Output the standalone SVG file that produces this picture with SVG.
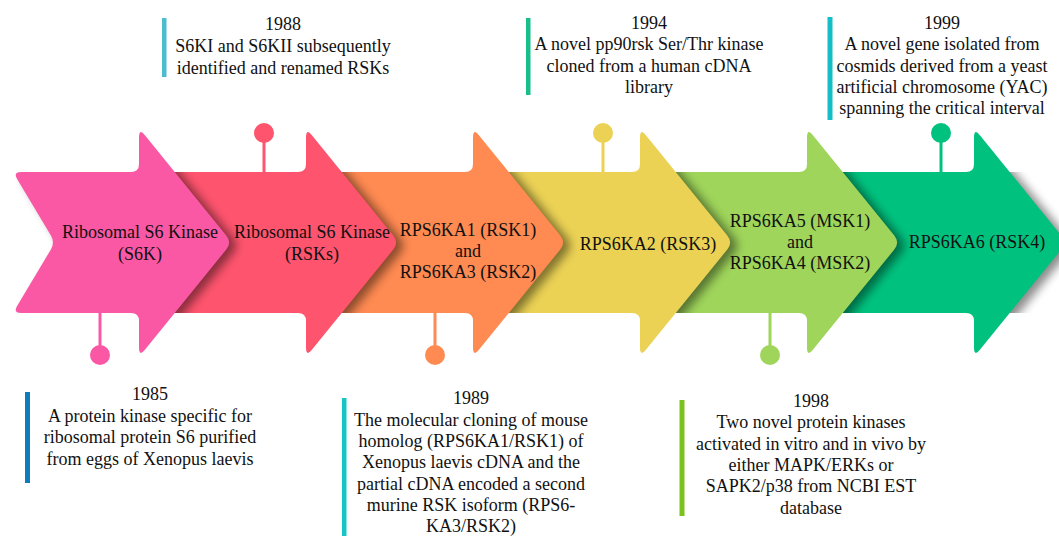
<svg xmlns="http://www.w3.org/2000/svg" xmlns:xlink="http://www.w3.org/1999/xlink" width="1059" height="536" viewBox="0 0 1059 536">
<style>
text{font-family:'Liberation Serif','Times New Roman',Tinos,'DejaVu Serif',serif;font-size:18px;fill:#111;text-anchor:middle}
.stem{stroke-width:3}
.shadow{fill:#000;opacity:0.45}
</style>
<defs>
<path id="arrowA" d="M -159,172 L -8,172 Q 0,172 0,164 L 0,138 Q 0,128 5.7,135 L 87.3,235.5 Q 93,242.5 87.3,249.5 L 5.7,350 Q 0,357 0,347 L 0,321 Q 0,313 -8,313 L -159,313 Q -167,313 -162.9,306.1 L -129.1,249.4 Q -125,242.5 -129.1,235.6 L -162.9,178.9 Q -167,172 -159,172 Z"/>
<path id="arrowP" d="M -118,172 L -8,172 Q 0,172 0,164 L 0,138 Q 0,128 5.7,135 L 87.3,235.5 Q 93,242.5 87.3,249.5 L 5.7,350 Q 0,357 0,347 L 0,321 Q 0,313 -8,313 L -118,313 Q -126,313 -121.9,306.1 L -88.1,249.4 Q -84,242.5 -88.1,235.6 L -121.9,178.9 Q -126,172 -118,172 Z"/>
<filter id="blur" x="-20%" y="-20%" width="140%" height="140%"><feGaussianBlur stdDeviation="5"/></filter>
<clipPath id="band"><rect x="0" y="172" width="1059" height="141"/></clipPath>
</defs>
<rect width="1059" height="536" fill="#fff"/>

<g id="node-rsk4">
<g clip-path="url(#band)"><use xlink:href="#arrowA" class="shadow" filter="url(#blur)" transform="translate(981,3)"/></g>
<use xlink:href="#arrowA" fill="#00C27E" transform="translate(974,0)"/>
<text x="977" y="248">RPS6KA6 (RSK4)</text>
</g>
<g id="node-msk">
<g clip-path="url(#band)"><use xlink:href="#arrowA" class="shadow" filter="url(#blur)" transform="translate(814,3)"/></g>
<use xlink:href="#arrowA" fill="#9FD55B" transform="translate(807,0)"/>
<text x="800" y="227">RPS6KA5 (MSK1)</text>
<text x="800" y="248">and</text>
<text x="800" y="269">RPS6KA4 (MSK2)</text>
</g>
<g id="node-rsk3">
<g clip-path="url(#band)"><use xlink:href="#arrowA" class="shadow" filter="url(#blur)" transform="translate(647,3)"/></g>
<use xlink:href="#arrowA" fill="#EBD255" transform="translate(640,0)"/>
<text x="648" y="250">RPS6KA2 (RSK3)</text>
</g>
<g id="node-rsk12">
<g clip-path="url(#band)"><use xlink:href="#arrowA" class="shadow" filter="url(#blur)" transform="translate(480,3)"/></g>
<use xlink:href="#arrowA" fill="#FF8A52" transform="translate(473,0)"/>
<text x="468" y="236">RPS6KA1 (RSK1)</text>
<text x="468" y="257">and</text>
<text x="468" y="278">RPS6KA3 (RSK2)</text>
</g>
<g id="node-rsks">
<g clip-path="url(#band)"><use xlink:href="#arrowA" class="shadow" filter="url(#blur)" transform="translate(313,3)"/></g>
<use xlink:href="#arrowA" fill="#FE546E" transform="translate(306,0)"/>
<text x="312" y="238">Ribosomal S6 Kinase</text>
<text x="312" y="260">(RSKs)</text>
</g>
<g id="node-s6k">
<g clip-path="url(#band)"><use xlink:href="#arrowP" class="shadow" filter="url(#blur)" transform="translate(146,3)"/></g>
<use xlink:href="#arrowP" fill="#FA58A4" transform="translate(139,0)"/>
<text x="140" y="238">Ribosomal S6 Kinase</text>
<text x="140" y="260">(S6K)</text>
</g>

<g id="connectors">
<line class="stem" x1="100" y1="312" x2="100" y2="350" stroke="#FA58A4"/>
<circle cx="100" cy="355" r="10" fill="#FA58A4"/>
<line class="stem" x1="264" y1="138" x2="264" y2="173" stroke="#FE546E"/>
<circle cx="264" cy="133" r="10" fill="#FE546E"/>
<line class="stem" x1="435" y1="312" x2="435" y2="350" stroke="#FF8A52"/>
<circle cx="435" cy="355" r="10" fill="#FF8A52"/>
<line class="stem" x1="603" y1="138" x2="603" y2="173" stroke="#EBD255"/>
<circle cx="603" cy="133" r="10" fill="#EBD255"/>
<line class="stem" x1="770" y1="312" x2="770" y2="350" stroke="#9FD55B"/>
<circle cx="770" cy="355" r="10" fill="#9FD55B"/>
<line class="stem" x1="941" y1="138" x2="941" y2="173" stroke="#00C27E"/>
<circle cx="941" cy="133" r="10" fill="#00C27E"/>
</g>

<g id="event-1988">
<rect x="162" y="18" width="4.5" height="59" fill="#4CBCCF"/>
<text x="283" y="29.5">1988</text>
<text x="283" y="51.5">S6KI and S6KII subsequently</text>
<text x="283" y="73.5">identified and renamed RSKs</text>
</g>
<g id="event-1994">
<rect x="526" y="18" width="4.5" height="77" fill="#19BE8B"/>
<text x="649" y="28.5">1994</text>
<text x="649" y="50">A novel pp90rsk Ser/Thr kinase</text>
<text x="649" y="71.5">cloned from a human cDNA</text>
<text x="649" y="93">library</text>
</g>
<g id="event-1999">
<rect x="827.5" y="17" width="5" height="103" fill="#14BEC6"/>
<text x="942" y="28.5">1999</text>
<text x="942" y="50">A novel gene isolated from</text>
<text x="942" y="71.5">cosmids derived from a yeast</text>
<text x="942" y="93">artificial chromosome (YAC)</text>
<text x="942" y="114">spanning the critical interval</text>
</g>
<g id="event-1985">
<rect x="25" y="392" width="5" height="91" fill="#0C7EBF"/>
<text x="150" y="400">1985</text>
<text x="150" y="421.5">A protein kinase specific for</text>
<text x="150" y="443">ribosomal protein S6 purified</text>
<text x="150" y="464.5">from eggs of Xenopus laevis</text>
</g>
<g id="event-1989">
<rect x="342" y="398" width="4.5" height="138" fill="#17C5C6"/>
<text x="471" y="404">1989</text>
<text x="471" y="425.5">The molecular cloning of mouse</text>
<text x="471" y="447">homolog (RPS6KA1/RSK1) of</text>
<text x="471" y="468">Xenopus laevis cDNA and the</text>
<text x="471" y="489.5">partial cDNA encoded a second</text>
<text x="471" y="511">murine RSK isoform (RPS6-</text>
<text x="471" y="532">KA3/RSK2)</text>
</g>
<g id="event-1998">
<rect x="679.5" y="400" width="5" height="116" fill="#7BC11F"/>
<text x="811" y="406.5">1998</text>
<text x="811" y="428">Two novel protein kinases</text>
<text x="811" y="449.5">activated in vitro and in vivo by</text>
<text x="811" y="471">either MAPK/ERKs or</text>
<text x="811" y="492">SAPK2/p38 from NCBI EST</text>
<text x="811" y="513.5">database</text>
</g>
</svg>
